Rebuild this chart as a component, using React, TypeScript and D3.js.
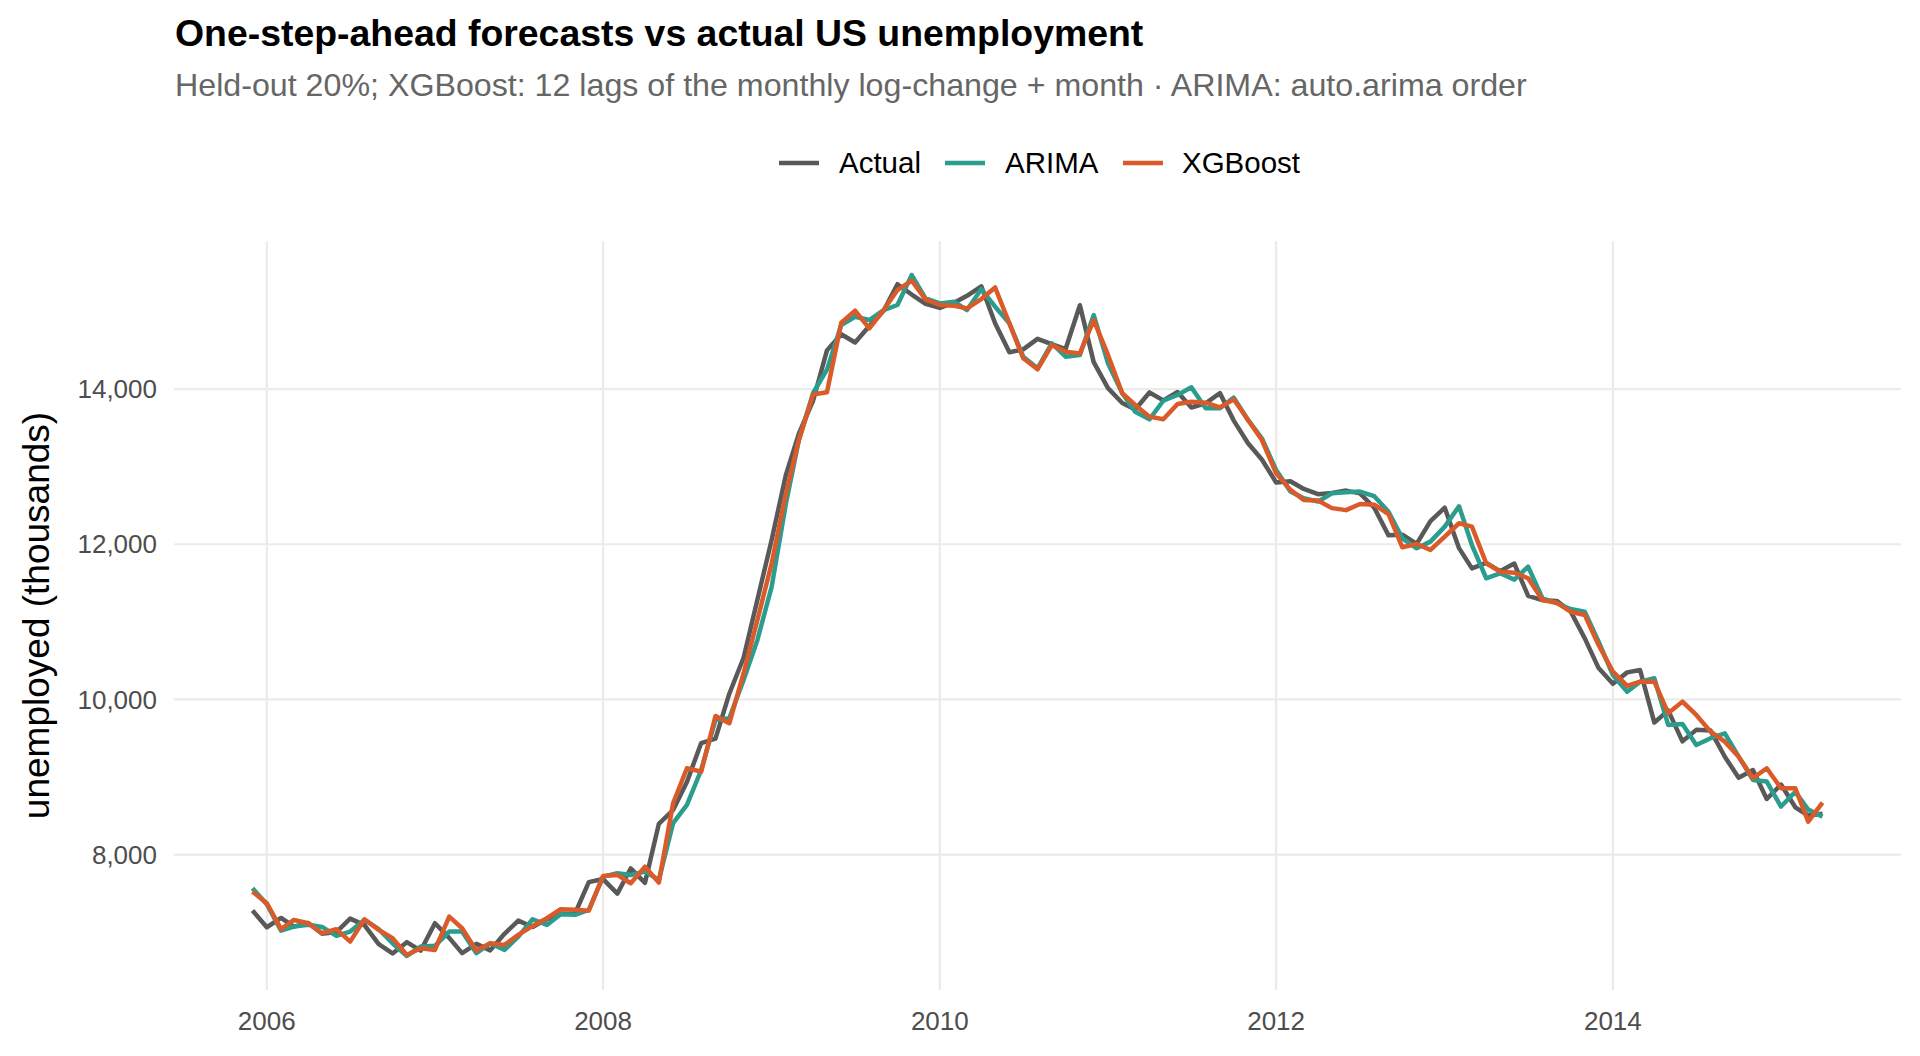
import React from 'react'
import * as d3 from 'd3'

// monthly series, Dec 2005 .. Apr 2015 (held-out 20%)
const firstMonth = new Date(2005, 11, 1)
const lastMonth = new Date(2015, 3, 1)

const actual = [
    7279,
    7064, 7184, 7072, 7120, 6980, 7001, 7175, 7091, 6847, 6727, 6872, 6762,
    7116, 6927, 6731, 6850, 6766, 6979, 7149, 7067, 7170, 7237, 7240, 7645,
    7685, 7497, 7822, 7637, 8395, 8575, 8937, 9438, 9494, 10074, 10538, 11286,
    12058, 12898, 13426, 13853, 14499, 14707, 14601, 14814, 15009, 15352, 15219, 15098,
    15046, 15113, 15202, 15325, 14849, 14474, 14512, 14648, 14579, 14516, 15081, 14348,
    14013, 13820, 13737, 13957, 13855, 13962, 13763, 13818, 13948, 13594, 13302, 13093,
    12797, 12813, 12713, 12646, 12660, 12692, 12656, 12471, 12115, 12124, 12005, 12298,
    12471, 11950, 11689, 11760, 11654, 11751, 11335, 11279, 11270, 11136, 10787, 10404,
    10202, 10349, 10380, 9702, 9859, 9460, 9608, 9599, 9262, 8990, 9090, 8717,
    8903, 8610, 8504, 8526,
]

const arima = [
    7567,
    7360, 7020, 7072, 7095, 7068, 6952, 7008, 7158, 7040, 6858, 6694, 6815,
    6824, 7008, 7008, 6730, 6858, 6772, 6943, 7167, 7094, 7232, 7224, 7288,
    7717, 7760, 7738, 7781, 7674, 8405, 8640, 9091, 9736, 9757, 10251, 10767,
    11454, 12528, 13344, 13950, 14250, 14826, 14933, 14890, 15019, 15084, 15470, 15170,
    15104, 15127, 15019, 15290, 15062, 14848, 14418, 14268, 14590, 14418, 14440, 14955,
    14332, 13946, 13709, 13610, 13850, 13924, 14023, 13752, 13752, 13890, 13602, 13366,
    12958, 12679, 12593, 12550, 12657, 12670, 12680, 12620, 12420, 12077, 11948, 12034,
    12228, 12490, 11990, 11562, 11626, 11544, 11711, 11304, 11240, 11166, 11131, 10745,
    10315, 10100, 10229, 10273, 9671, 9684, 9413, 9500, 9564, 9263, 8963, 8942,
    8620, 8810, 8580, 8490,
]

const xgboost = [
    7523,
    7374, 7039, 7158, 7116, 6987, 7039, 6879, 7167, 7030, 6923, 6707, 6794,
    6772, 7201, 7051, 6763, 6858, 6836, 6965, 7081, 7180, 7296, 7288, 7278,
    7725, 7738, 7631, 7845, 7640, 8662, 9113, 9070, 9787, 9693, 10338, 11024,
    11755, 12657, 13344, 13930, 13960, 14856, 15010, 14783, 15019, 15277, 15397, 15157,
    15084, 15075, 15041, 15161, 15310, 14848, 14397, 14255, 14568, 14482, 14460, 14890,
    14440, 13946, 13795, 13645, 13611, 13808, 13838, 13825, 13765, 13868, 13602, 13344,
    12915, 12701, 12572, 12563, 12466, 12440, 12520, 12510, 12390, 11961, 12004, 11927,
    12098, 12271, 12228, 11755, 11647, 11634, 11562, 11282, 11247, 11131, 11089, 10702,
    10358, 10174, 10229, 10230, 9822, 9972, 9800, 9585, 9456, 9263, 8985, 9113,
    8855, 8855, 8425, 8670,
]

const seriesNames = ['Actual', 'ARIMA', 'XGBoost']
const seriesColors = ['#595959', '#2a9d8f', '#da5a2a']
const xTickYears = [2006, 2008, 2010, 2012, 2014]
const yTickValues = [8000, 10000, 12000, 14000]

const W = 1920
const H = 1056
const panel = { left: 174, right: 1901, top: 241, bottom: 990 }
const font = '"Liberation Sans", Arial, Helvetica, sans-serif'

const App: React.FC = () => {
    const months = d3.timeMonth.range(firstMonth, d3.timeMonth.offset(lastMonth, 1))
    const allSeries = [actual, arima, xgboost]

    // ggplot-style 5% expansion on both axes
    const t0 = +firstMonth
    const t1 = +lastMonth
    const tPad = (t1 - t0) * 0.05
    const x = d3
        .scaleTime()
        .domain([new Date(t0 - tPad), new Date(t1 + tPad)])
        .range([panel.left, panel.right])

    const [vMin, vMax] = d3.extent(allSeries.flat()) as [number, number]
    const vPad = (vMax - vMin) * 0.05
    const y = d3
        .scaleLinear()
        .domain([vMin - vPad, vMax + vPad])
        .range([panel.bottom, panel.top])

    const line = d3
        .line<number>()
        .x((_, i) => x(months[i]))
        .y((d) => y(d))

    const fmt = d3.format(',')

    // legend layout (centred above the panel)
    const legendKeys = [
        { x0: 779, tx: 839 },
        { x0: 945, tx: 1005 },
        { x0: 1123, tx: 1182 },
    ]

    return (
        <svg
            width={W}
            height={H}
            style={{ position: 'absolute', left: 0, top: 0, background: '#fff' }}
            fontFamily={font}
        >
            <text x={175} y={46} fontSize={37.4} fontWeight="bold" fill="#000">
                One-step-ahead forecasts vs actual US unemployment
            </text>
            <text x={175} y={96} fontSize={32.2} fill="#666666">
                Held-out 20%; XGBoost: 12 lags of the monthly log-change + month · ARIMA: auto.arima order
            </text>

            {seriesNames.map((name, i) => (
                <g key={name}>
                    <line
                        x1={legendKeys[i].x0}
                        x2={legendKeys[i].x0 + 40}
                        y1={163}
                        y2={163}
                        stroke={seriesColors[i]}
                        strokeWidth={4.5}
                    />
                    <text x={legendKeys[i].tx} y={173} fontSize={29.5} fill="#000">
                        {name}
                    </text>
                </g>
            ))}

            {/* grid */}
            {yTickValues.map((v) => (
                <line
                    key={'gy' + v}
                    x1={panel.left}
                    x2={panel.right}
                    y1={y(v)}
                    y2={y(v)}
                    stroke="#ebebeb"
                    strokeWidth={2.2}
                />
            ))}
            {xTickYears.map((yr) => (
                <line
                    key={'gx' + yr}
                    x1={x(new Date(yr, 0, 1))}
                    x2={x(new Date(yr, 0, 1))}
                    y1={panel.top}
                    y2={panel.bottom}
                    stroke="#ebebeb"
                    strokeWidth={2.2}
                />
            ))}

            {/* series */}
            {allSeries.map((s, i) => (
                <path
                    key={seriesNames[i]}
                    d={line(s) || ''}
                    fill="none"
                    stroke={seriesColors[i]}
                    strokeWidth={4.5}
                    strokeLinejoin="round"
                />
            ))}

            {/* axes labels */}
            {yTickValues.map((v) => (
                <text
                    key={'ty' + v}
                    x={157}
                    y={y(v)}
                    dy="0.35em"
                    textAnchor="end"
                    fontSize={26}
                    fill="#4d4d4d"
                >
                    {fmt(v)}
                </text>
            ))}
            {xTickYears.map((yr) => (
                <text
                    key={'tx' + yr}
                    x={x(new Date(yr, 0, 1))}
                    y={1030}
                    textAnchor="middle"
                    fontSize={26}
                    fill="#4d4d4d"
                >
                    {yr}
                </text>
            ))}
            <text
                transform={`translate(49, ${(panel.top + panel.bottom) / 2}) rotate(-90)`}
                textAnchor="middle"
                fontSize={37}
                fill="#000"
            >
                unemployed (thousands)
            </text>
        </svg>
    )
}

export default App
